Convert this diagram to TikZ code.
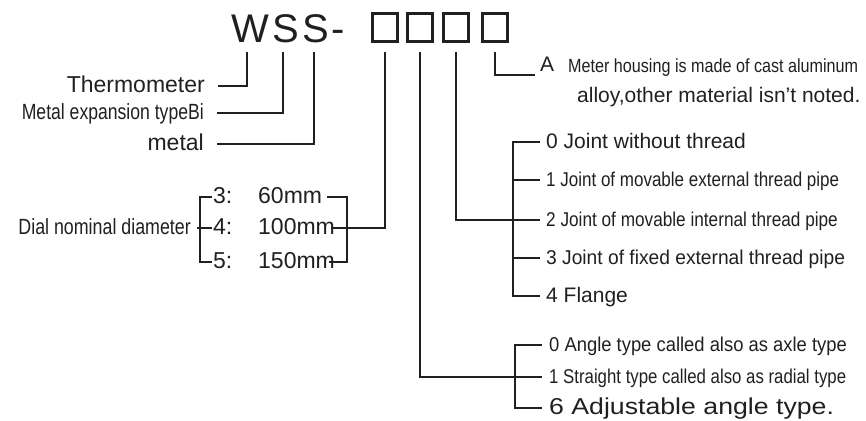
\documentclass[tikz,border=0pt]{standalone}
\usepackage{fontspec}
\setmainfont{Liberation Sans}
\usepackage{graphicx}
\usetikzlibrary{positioning}
\definecolor{ink}{HTML}{231F20}
\newcommand{\fsz}[1]{\fontsize{#1}{#1}\selectfont}
\newcommand{\narrow}[2]{\scalebox{#1}[1]{#2}}
\tikzset{
  wire/.style={draw=ink,line width=1.1pt},
  digit/.style={draw=ink,line width=2.6pt,minimum width=25pt,minimum height=28pt,inner sep=0pt},
  item/.style={text=ink,inner ysep=0pt,inner xsep=6pt,text height=15pt,text depth=3pt,font={\fsz{21}}},
  leftitem/.style={item,anchor=east,inner xsep=13pt},
  dim/.style={item,inner xsep=1pt,font={\fsz{23}}}}

\begin{document}
\begin{tikzpicture}[x=1pt,y=-1pt]
\useasboundingbox (0,0) rectangle (866,420);
% model code
\node[anchor=base west,text=ink,inner sep=0pt,font={\fsz{40}\addfontfeature{LetterSpace=8}}] (code) at (231,42) {WSS-};
\node[digit] (b1) at (385,27.5) {};
\node[digit] (b2) at (420,27.5) {};
\node[digit] (b3) at (456,27.5) {};
\node[digit] (b4) at (495,27.5) {};
\coordinate (tW) at (247,52);
\coordinate (tS) at (283,52);
\coordinate (tT) at (314,52);
% left side
\node[leftitem,font={\fsz{23}}] (thermo) at (218,86) {Thermometer};
\node[leftitem,font={\fsz{22}}] (bimet) at (217,113) {\narrow{0.8}{Metal expansion typeBi}};
\node[leftitem,font={\fsz{23}}] (metal) at (217,144) {metal};
\draw[wire] (tW) |- (thermo.east);
\draw[wire] (tS) |- (bimet.east);
\draw[wire] (tT) |- (metal.east);
\node[item,anchor=east,font={\fsz{22}}] (dial) at (197,228) {\narrow{0.81}{Dial nominal diameter}};
\node[dim,anchor=west] (d3) at (212,197) {\makebox[45pt][l]{3:}60mm};
\node[dim,anchor=west] (d4) at (212,228) {\makebox[45pt][l]{4:}100mm};
\node[dim,anchor=west] (d5) at (212,262) {\makebox[45pt][l]{5:}150mm};
\coordinate (lb) at (200,228);
\coordinate (rb) at (347,228);
\draw[wire] (d3.west) -| (lb) |- (d5.west);
\draw[wire] (dial.east) -- (d4.west);
\draw[wire] ([xshift=4pt]d3.east) -| (rb) |- ([xshift=-7pt]d5.east);
\draw[wire] (b1.south |- tW) |- ([xshift=-5pt]d4.east);
% housing
\node[item,anchor=south west,inner xsep=5pt,text depth=3pt] (hsA) at (535,75) {A};
\node[anchor=base west,inner sep=0pt,text=ink,font={\fsz{19}}] (hs1) at (568,72) {\narrow{0.85}{Meter housing is made of cast aluminum}};
\node[anchor=base west,inner sep=0pt,text=ink,font={\fsz{21}}] (hs2) at (577,102) {alloy,other material isn't noted.};
\draw[wire] (b4.south |- tW) |- (hsA.south west);
% joint
\node[item,anchor=west] (j0) at (540,142) {0 Joint without thread};
\node[item,anchor=west,font={\fsz{20}}] (j1) at (540,180) {\narrow{0.85}{1 Joint of movable external thread pipe}};
\node[item,anchor=west,font={\fsz{20}}] (j2) at (540,220) {\narrow{0.86}{2 Joint of movable internal thread pipe}};
\node[item,anchor=west,font={\fsz{20}}] (j3) at (540,258) {\narrow{0.96}{3 Joint of fixed external thread pipe}};
\node[item,anchor=west] (j4) at (540,296) {4 Flange};
\coordinate (jb) at (513,220);
\draw[wire] (j0.west) -| (jb) |- (j4.west);
\draw[wire] (j1.west) -- (j1.west -| jb);
\draw[wire] (j3.west) -- (j3.west -| jb);
\draw[wire] (b3.south |- tW) |- (j2.west);
% angle
\node[item,anchor=west,inner xsep=7pt,font={\fsz{20}}] (a0) at (542,345) {\narrow{0.92}{0 Angle type called also as axle type}};
\node[item,anchor=west,inner xsep=7pt,font={\fsz{20}}] (a1) at (542,377) {\narrow{0.84}{1 Straight type called also as radial type}};
\node[item,anchor=west,inner xsep=7pt,font={\fsz{23}}] (a6) at (542,408) {\narrow{1.16}{6 Adjustable angle type.}};
\coordinate (ab) at (515,377);
\draw[wire] (a0.west) -| (ab) |- (a6.west);
\draw[wire] (b2.south |- tW) |- (a1.west);
\end{tikzpicture}
\end{document}
